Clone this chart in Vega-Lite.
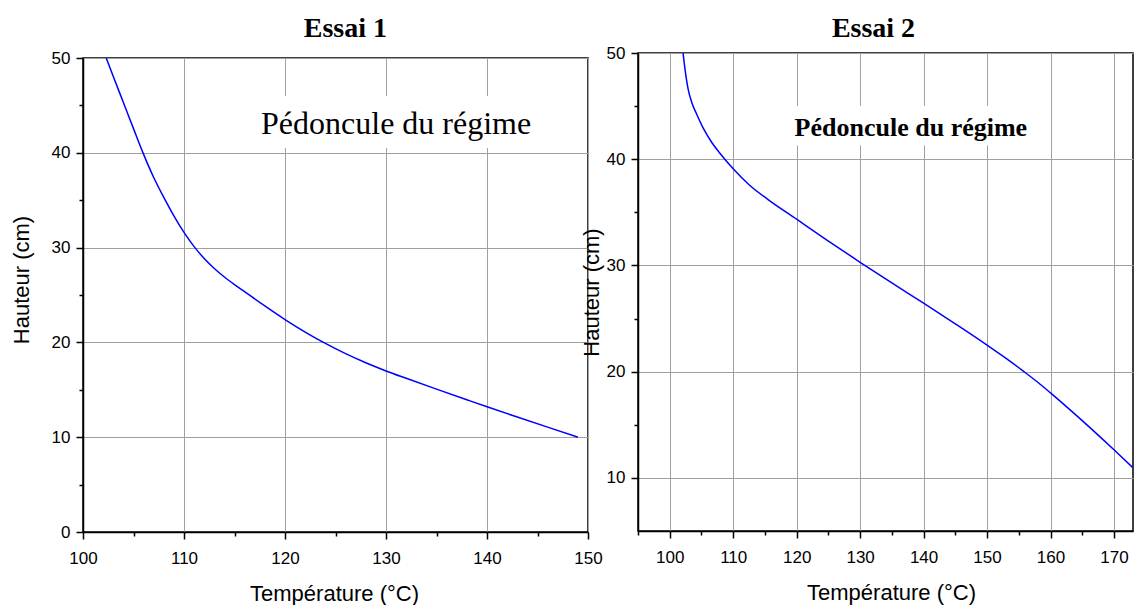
{
  "$schema": "https://vega.github.io/schema/vega-lite/v6.json",
  "padding": {"left": 9, "top": 14, "right": 0, "bottom": 0},
  "background": "white",
  "spacing": -24,
  "datasets": {
    "e1": [
      {"t": 102.3, "h": 50}, {"t": 103.0, "h": 48.05}, {"t": 104.0, "h": 45.3}, {"t": 105.0, "h": 42.55},
      {"t": 105.9, "h": 40.1}, {"t": 107.0, "h": 37.4}, {"t": 108.0, "h": 35.3}, {"t": 109.0, "h": 33.35},
      {"t": 110.0, "h": 31.6}, {"t": 111.0, "h": 30.1}, {"t": 112.0, "h": 28.85}, {"t": 113.0, "h": 27.8},
      {"t": 114.0, "h": 26.9}, {"t": 115.0, "h": 26.1}, {"t": 116.0, "h": 25.35}, {"t": 118.0, "h": 23.85},
      {"t": 120.0, "h": 22.41}, {"t": 122.0, "h": 21.09}, {"t": 124.0, "h": 19.89}, {"t": 126.0, "h": 18.81},
      {"t": 128.0, "h": 17.85}, {"t": 130.0, "h": 16.99}, {"t": 132.0, "h": 16.21}, {"t": 135.0, "h": 15.07},
      {"t": 138.0, "h": 13.95}, {"t": 140.0, "h": 13.21}, {"t": 143.0, "h": 12.13}, {"t": 146.0, "h": 11.06},
      {"t": 149.0, "h": 10.0}
    ],
    "e2": [
      {"t": 102.1, "h": 50}, {"t": 102.4, "h": 48.5}, {"t": 102.9, "h": 46.6}, {"t": 103.5, "h": 45.3},
      {"t": 104.2, "h": 44.3}, {"t": 105.3, "h": 42.9}, {"t": 106.6, "h": 41.6}, {"t": 108.0, "h": 40.5},
      {"t": 110.0, "h": 39.1}, {"t": 112.5, "h": 37.6}, {"t": 115.5, "h": 36.2}, {"t": 120.0, "h": 34.35},
      {"t": 125.0, "h": 32.3}, {"t": 130.0, "h": 30.3}, {"t": 135.0, "h": 28.35}, {"t": 140.0, "h": 26.45},
      {"t": 145.0, "h": 24.5}, {"t": 150.0, "h": 22.5}, {"t": 153.0, "h": 21.25}, {"t": 155.6, "h": 20.1},
      {"t": 158.0, "h": 19.0}, {"t": 160.0, "h": 18.0}, {"t": 163.0, "h": 16.45}, {"t": 166.0, "h": 14.85},
      {"t": 170.0, "h": 12.65}, {"t": 173.0, "h": 10.95}
    ],
    "box1": [{"x1": 117.3, "x2": 144.8, "y1": 40.5, "y2": 46.0, "label": "Pédoncule du régime", "tx": 131.0, "ty": 42.0}],
    "box2": [{"x1": 119.6, "x2": 156.6, "y1": 41.3, "y2": 45.0, "label": "Pédoncule du régime", "tx": 138.0, "ty": 42.15}]
  },
  "hconcat": [
    {
      "title": {"text": "Essai 1", "font": "Liberation Serif", "fontSize": 28, "fontWeight": "bold", "color": "black", "frame": "bounds", "anchor": "middle", "dx": 39, "offset": 5},
      "spacing": 0,
      "bounds": "flush",
      "vconcat": [
        {
          "width": 505,
          "height": 5,
          "view": {"stroke": null},
          "data": {"values": [{"a": 1}]},
          "mark": {"type": "text", "text": ""},
          "encoding": {}
        },
        {
          "width": 505,
          "height": 474,
          "layer": [
            {
              "data": {"name": "e1"},
              "mark": {"type": "line", "color": "#0000ff", "strokeWidth": 1.5, "interpolate": "monotone", "clip": true},
              "encoding": {
                "x": {"field": "t", "type": "quantitative", "scale": {"domain": [100, 150], "nice": false, "zero": false},
                      "axis": {"values": [100, 105, 110, 115, 120, 125, 130, 135, 140, 145, 150], "title": "Température (°C)", "titleX": 251, "titleY": 61}},
                "y": {"field": "h", "type": "quantitative", "scale": {"domain": [0, 50], "nice": false, "zero": false},
                      "axis": {"values": [0, 5, 10, 15, 20, 25, 30, 35, 40, 45, 50], "title": "Hauteur (cm)", "titleX": -61.5, "titleY": 221.5}}
              }
            },
            {
              "data": {"name": "box1"},
              "mark": {"type": "rect", "color": "white"},
              "encoding": {
                "x": {"field": "x1", "type": "quantitative"},
                "x2": {"field": "x2"},
                "y": {"field": "y1", "type": "quantitative"},
                "y2": {"field": "y2"}
              }
            },
            {
              "data": {"name": "box1"},
              "mark": {"type": "text", "font": "Liberation Serif", "fontSize": 32, "baseline": "alphabetic", "align": "center", "color": "black"},
              "encoding": {
                "x": {"field": "tx", "type": "quantitative"},
                "y": {"field": "ty", "type": "quantitative"},
                "text": {"field": "label"}
              }
            }
          ]
        }
      ]
    },
    {
      "width": 495,
      "height": 478,
      "title": {"text": "Essai 2", "font": "Liberation Serif", "fontSize": 28, "fontWeight": "bold", "color": "black", "frame": "group", "anchor": "middle", "dx": -12, "offset": 1},
      "layer": [
        {
          "data": {"name": "e2"},
          "mark": {"type": "line", "color": "#0000ff", "strokeWidth": 1.5, "interpolate": "monotone", "clip": true},
          "encoding": {
            "x": {"field": "t", "type": "quantitative", "scale": {"domain": [95, 173], "nice": false, "zero": false},
                  "axis": {"values": [95, 100, 105, 110, 115, 120, 125, 130, 135, 140, 145, 150, 155, 160, 165, 170], "title": "Température (°C)", "titleX": 253, "titleY": 61}},
            "y": {"field": "h", "type": "quantitative", "scale": {"domain": [5, 50], "nice": false, "zero": false},
                  "axis": {"values": [10, 15, 20, 25, 30, 35, 40, 45, 50], "title": "Hauteur (cm)", "titleX": -46.5, "titleY": 239}}
          }
        },
        {
          "data": {"name": "box2"},
          "mark": {"type": "rect", "color": "white"},
          "encoding": {
            "x": {"field": "x1", "type": "quantitative"},
            "x2": {"field": "x2"},
            "y": {"field": "y1", "type": "quantitative"},
            "y2": {"field": "y2"}
          }
        },
        {
          "data": {"name": "box2"},
          "mark": {"type": "text", "font": "Liberation Serif", "fontSize": 26, "fontWeight": "bold", "baseline": "alphabetic", "align": "center", "color": "black"},
          "encoding": {
            "x": {"field": "tx", "type": "quantitative"},
            "y": {"field": "ty", "type": "quantitative"},
            "text": {"field": "label"}
          }
        }
      ]
    }
  ],
  "config": {
    "view": {"stroke": "black", "strokeWidth": 1.5},
    "axis": {
      "grid": true,
      "tickCount": 100,
      "format": "d",
      "gridColor": "#a0a0a0",
      "gridWidth": 1,
      "gridOpacity": {"condition": {"test": "datum.value % 10 !== 0", "value": 0}, "value": 1},
      "domainColor": "black",
      "domainWidth": 1.5,
      "tickColor": "black",
      "tickWidth": 1.5,
      "tickSize": {"condition": {"test": "datum.value % 10 !== 0", "value": 4}, "value": 7},
      "labelExpr": "datum.value % 10 === 0 ? datum.label : ''",
      "labelFont": "Liberation Sans",
      "labelFontSize": 17,
      "labelColor": "black",
      "labelFlush": false,
      "labelOverlap": false,
      "titleFont": "Liberation Sans",
      "titleFontSize": 22,
      "titleFontWeight": "normal",
      "titleColor": "black",
      "titleAlign": "center",
      "titleBaseline": "middle"
    },
    "axisX": {"labelPadding": 11},
    "axisY": {"labelPadding": 6}
  }
}
